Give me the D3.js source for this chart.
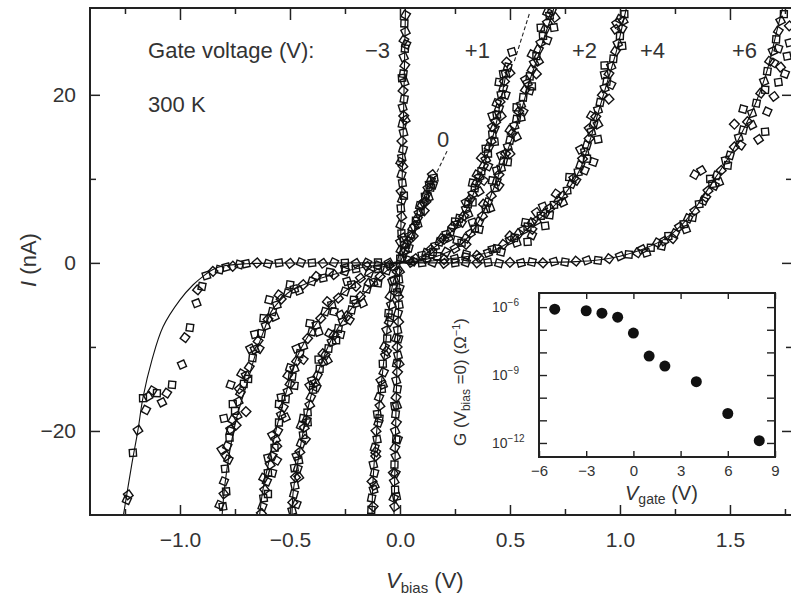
<!DOCTYPE html>
<html>
<head>
<meta charset="utf-8">
<script src="https://cdn.jsdelivr.net/npm/d3@7"></script>
<style>
  body { margin: 0; background: #fff; }
  text { font-family: "Liberation Sans", Arial, sans-serif; fill: #333; }
</style>
</head>
<body>
<svg width="791" height="600"></svg>
<script>
// I-V curves at 300 K, one per gate voltage : [Vbias (V), I (nA)]
const fit_m3 = [[-0.027,-30],[-0.02,-20],[-0.012,-10],[0,0],[0.01,10],[0.018,20],[0.025,30.4]];
const pts_m3 = [
  [0.001,0.5],[0.004,1.5],[0.002,2.5],[0.007,3.5],[0.003,4.5],[0.008,5.5],[0.004,6.5],[0.01,7.5],[0.005,8.5],[0.011,9.5],
  [0.007,10.5],[0.013,11.5],[0.008,12.5],[0.014,13.5],[0.009,14.5],[0.016,15.5],[0.011,16.5],[0.017,17.5],[0.012,18.5],[0.019,19.5],
  [0.014,20.5],[0.02,21.5],[0.015,22.5],[0.022,23.5],[0.017,24.5],[0.023,25.5],[0.018,26.5],[0.025,27.5],[0.02,28.5],[0.026,29.5],
  [0.012,3],[0.018,8],[0.003,12],[0.024,17],[0.009,22],[0.028,26],
  [-0.002,-1],[-0.005,-2],[-0.002,-3],[-0.007,-4],[-0.004,-5],[-0.009,-6],[-0.006,-7],[-0.011,-8],[-0.007,-9],[-0.013,-10],
  [-0.009,-11],[-0.015,-12],[-0.011,-13],[-0.017,-14],[-0.012,-15],[-0.018,-16],[-0.014,-17],[-0.02,-18],[-0.016,-19],[-0.022,-20],
  [-0.017,-21],[-0.023,-22],[-0.019,-23],[-0.025,-24],[-0.021,-25],[-0.026,-26],[-0.022,-27],[-0.028,-28],[-0.024,-29],
  [-0.012,-3.5],[-0.018,-9],[-0.004,-12],[-0.024,-17],[-0.01,-21],[-0.03,-25],[-0.016,-27.8]
];
const fit_0 = [[-0.127,-30],[-0.123,-26.2],[-0.1,-18.3],[-0.068,-10.4],[-0.032,-2.4],[0,0],[0.06,3.6],[0.105,6.7],[0.136,9],[0.16,10.3]];
const pts_0 = [
  [0.008,0.6],[0.016,1.2],[0.024,1.5],[0.03,2.2],[0.038,2.6],[0.045,3.2],[0.052,3.4],[0.058,4.1],[0.066,4.3],[0.072,5.0],
  [0.08,5.3],[0.086,5.9],[0.094,6.1],[0.1,6.9],[0.108,7.2],[0.114,7.9],[0.12,8.1],[0.127,8.9],[0.133,9.3],[0.14,9.8],
  [0.147,10.5],[0.155,10.1],[0.15,9.3],[0.118,7.3],
  [0.02,2.2],[0.04,1.8],[0.06,3.2],[0.08,4.6],[0.09,6.8],[0.11,6.2],[0.13,7.8],[0.14,9.0],
  [-0.013,-1],[-0.027,-2],[-0.03,-3],[-0.045,-4],[-0.04,-5],[-0.052,-6],[-0.049,-7],[-0.061,-8],[-0.058,-9],[-0.07,-10],
  [-0.066,-11],[-0.078,-12],[-0.074,-13],[-0.087,-14],[-0.083,-15],[-0.095,-16],[-0.091,-17],[-0.103,-18],[-0.098,-19],[-0.109,-20],
  [-0.104,-21],[-0.115,-22],[-0.11,-23],[-0.121,-24],[-0.116,-25],[-0.127,-26],[-0.12,-27],[-0.129,-28],[-0.122,-29],
  [-0.035,-2.2],[-0.045,-6.5],[-0.06,-10.5],[-0.078,-14.5],[-0.094,-18.5],[-0.11,-22.5],[-0.116,-26.5],[-0.13,-29.4]
];
const lead_0 = [[0.168,10.8],[0.214,13.3]];
const fit_p1 = [[-0.491,-30.5],[-0.486,-27.4],[-0.468,-24.3],[-0.441,-20.2],[-0.409,-16.3],[-0.364,-12.4],[-0.305,-8.8],[-0.214,-5.2],
  [-0.091,-1.7],[-0.045,-0.6],[0,0],[0.091,0.7],[0.182,2.4],[0.25,4.2],[0.305,6.5],[0.35,9.3],[0.386,11.9],[0.418,14.6],
  [0.441,17],[0.459,19.4],[0.477,21.8],[0.491,23.6]];
const pts_p1 = [
  [0.04,0.3],[0.07,0.5],[0.1,0.9],[0.12,1.2],[0.14,1.6],[0.16,2.0],[0.18,2.5],[0.2,2.8],[0.21,3.4],[0.23,3.7],
  [0.24,4.3],[0.26,4.6],[0.27,5.3],[0.29,5.6],[0.3,6.4],[0.31,7.0],[0.32,7.6],[0.33,8.2],[0.34,8.9],[0.35,9.6],
  [0.36,10.2],[0.37,10.9],[0.38,11.5],[0.39,12.3],[0.4,13.0],[0.405,13.8],[0.415,14.5],[0.42,15.3],[0.43,16.0],[0.435,16.8],
  [0.44,17.6],[0.45,18.4],[0.455,19.2],[0.46,20.0],[0.47,20.8],[0.475,21.6],[0.48,22.5],[0.49,23.3],[0.485,23.9],[0.509,25.1],
  [0.33,9.5],[0.37,12.5],[0.42,17.5],[0.45,21.5],[0.38,9.8],[0.31,5.8],
  [0.15,1.3],[0.19,2.9],[0.22,3.0],[0.25,4.9],[0.28,4.8],[0.3,7.2],[0.33,7.2],[0.35,10.5],[0.36,8.5],[0.39,13.6],
  [0.4,11.5],[0.42,16.2],[0.43,14.4],[0.44,19],[0.46,17.5],[0.47,22.5],[0.48,20],[0.5,22.6],
  [-0.03,-0.4],[-0.06,-0.9],[-0.09,-1.6],[-0.12,-2.3],[-0.15,-3.1],[-0.18,-4.0],[-0.2,-4.8],[-0.22,-5.6],[-0.24,-6.3],[-0.26,-7.0],
  [-0.28,-7.8],[-0.3,-8.6],[-0.31,-9.4],[-0.325,-10.2],[-0.34,-11.0],[-0.35,-11.8],[-0.365,-12.6],[-0.375,-13.4],[-0.385,-14.3],[-0.395,-15.1],
  [-0.405,-16],[-0.41,-16.9],[-0.42,-17.8],[-0.425,-18.7],[-0.435,-19.6],[-0.44,-20.5],[-0.45,-21.5],[-0.455,-22.5],[-0.46,-23.5],[-0.465,-24.5],
  [-0.475,-25.5],[-0.478,-26.5],[-0.482,-27.5],[-0.487,-28.5],[-0.49,-29.5],
  [-0.27,-8.5],[-0.35,-10.8],[-0.4,-14],[-0.44,-18.5],[-0.43,-21],[-0.47,-23],
  [-0.1,-2.4],[-0.14,-2.4],[-0.17,-4.8],[-0.21,-4.4],[-0.23,-6.8],[-0.27,-6.2],[-0.29,-9.2],[-0.32,-8.4],[-0.33,-11.6],[-0.37,-11.5],
  [-0.38,-14.8],[-0.41,-14.6],[-0.42,-19],[-0.45,-19.4],[-0.46,-25.5],[-0.48,-24.4],[-0.47,-28.7]
];
const lead_p1 = [[0.52,24.0],[0.59,29.8]];
const fit_p2 = [[-0.64,-30.5],[-0.623,-27],[-0.591,-23.1],[-0.555,-19],[-0.514,-15.1],[-0.468,-11.2],[-0.377,-7.1],[-0.259,-3.6],
  [-0.091,-0.6],[0,0],[0.1,0.3],[0.2,1.1],[0.273,2.1],[0.341,4.2],[0.395,6.9],[0.441,9.9],[0.482,12.9],[0.523,15.8],
  [0.559,18.8],[0.591,21.8],[0.623,24.2],[0.659,27.1],[0.691,29.5],[0.7,30.4]];
const pts_p2 = [
  [0.06,0.2],[0.12,0.5],[0.17,0.8],[0.21,1.3],[0.25,1.7],[0.28,2.4],[0.3,2.9],[0.32,3.5],[0.34,4.1],[0.36,4.9],
  [0.375,5.6],[0.39,6.4],[0.4,7.2],[0.415,8.0],[0.43,8.9],[0.44,9.7],[0.45,10.5],[0.46,11.3],[0.47,12.1],[0.48,13.0],
  [0.49,13.8],[0.5,14.6],[0.51,15.4],[0.52,16.3],[0.53,17.1],[0.54,18.0],[0.55,18.8],[0.56,19.7],[0.57,20.6],[0.58,21.4],
  [0.59,22.2],[0.6,23.0],[0.61,23.8],[0.62,24.6],[0.63,25.4],[0.64,26.2],[0.65,27.0],[0.66,27.8],[0.67,28.6],[0.68,29.4],
  [0.69,30.0],[0.705,29.2],[0.7,28.0],[0.67,26.5],[0.5,13.0],[0.55,17.3],[0.59,20.5],[0.62,22.5],[0.44,11],
  [0.26,2.7],[0.3,2.2],[0.33,4.8],[0.36,4.0],[0.38,7.0],[0.41,6.5],[0.42,9.8],[0.45,9.2],[0.46,12.8],[0.49,12.0],
  [0.5,15.8],[0.53,15.0],[0.53,18.5],[0.56,18.0],[0.57,21.8],[0.6,21.0],[0.6,24.8],[0.63,24.0],[0.64,28.0],[0.67,29.8],
  [-0.05,-0.3],[-0.1,-0.7],[-0.14,-1.2],[-0.18,-1.8],[-0.22,-2.6],[-0.25,-3.4],[-0.28,-4.2],[-0.31,-5.0],[-0.34,-5.8],[-0.36,-6.6],
  [-0.38,-7.4],[-0.4,-8.2],[-0.42,-9.0],[-0.44,-9.9],[-0.455,-10.8],[-0.47,-11.7],[-0.48,-12.6],[-0.49,-13.5],[-0.5,-14.4],[-0.51,-15.3],
  [-0.52,-16.2],[-0.53,-17.2],[-0.54,-18.1],[-0.55,-19.0],[-0.555,-20],[-0.565,-21],[-0.57,-22],[-0.58,-23],[-0.59,-24],[-0.6,-25],
  [-0.605,-26],[-0.615,-27],[-0.62,-28],[-0.625,-29],[-0.63,-29.8],
  [-0.54,-16],[-0.5,-12.5],[-0.56,-21.8],[-0.6,-23.2],[-0.58,-25],
  [-0.2,-2.8],[-0.24,-2.2],[-0.3,-5.8],[-0.33,-4.6],[-0.37,-8.2],[-0.41,-7.2],[-0.44,-11.5],[-0.47,-10.2],[-0.48,-14.6],[-0.51,-13.4],
  [-0.52,-18.4],[-0.55,-16.8],[-0.56,-23.5],[-0.58,-20.5],[-0.6,-27.5],[-0.62,-25.6]
];
const fit_p4 = [[-0.81,-30.5],[-0.795,-26.2],[-0.773,-22.3],[-0.741,-18.3],[-0.695,-14.3],[-0.65,-10.3],[-0.615,-7.8],[-0.585,-5.8],
  [-0.55,-4.6],[-0.5,-3.4],[-0.42,-2.4],[-0.33,-1.6],[-0.2,-0.7],[-0.1,-0.25],[0,0],[0.1,0.1],[0.227,0.5],[0.409,1.3],
  [0.5,2.5],[0.559,3.6],[0.668,6.0],[0.741,7.9],[0.818,11.1],[0.864,14.6],[0.909,18.6],[0.941,21.4],[0.986,25.4],[1.014,28.6],[1.03,30.4]];
const pts_p4 = [
  [0.2,0.4],[0.25,0.5],[0.3,0.7],[0.35,0.9],[0.4,1.2],[0.44,1.7],[0.47,2.2],[0.5,2.7],[0.52,3.0],[0.54,3.5],
  [0.56,3.9],[0.58,4.3],[0.6,4.8],[0.62,5.0],[0.64,5.6],[0.66,5.9],[0.68,6.5],[0.7,6.9],[0.72,7.4],[0.74,8.0],
  [0.76,8.6],[0.78,9.4],[0.79,10.1],[0.81,10.8],[0.82,11.6],[0.83,12.4],[0.84,13.2],[0.85,14.0],[0.86,14.8],[0.87,15.6],
  [0.88,16.5],[0.89,17.4],[0.9,18.2],[0.91,19.1],[0.92,20.0],[0.93,20.8],[0.94,21.6],[0.95,22.5],[0.96,23.4],[0.97,24.3],
  [0.98,25.2],[0.99,26.1],[1.0,27.0],[1.01,27.9],[1.015,28.8],[1.02,29.6],[1.0,29.0],[0.985,28.5],
  [0.58,2.5],[0.6,3.3],[0.62,6.0],[0.66,4.4],[0.84,11.0],[0.86,16.0],[0.9,14.7],[0.88,12.0],[0.95,19.5],[0.93,22.4],
  [0.3,1.0],[0.36,0.6],[0.42,1.6],[0.46,1.3],[0.5,3.2],[0.53,2.4],[0.57,4.8],[0.6,4.0],[0.65,6.7],[0.68,5.7],
  [0.71,8.2],[0.74,7.2],[0.77,10.2],[0.8,9.8],[0.82,13.5],[0.85,12.4],[0.87,17.5],[0.9,16.5],[0.93,23.5],[0.96,21.2],
  [0.98,27.8],[1.01,25.8],
  [-0.1,-0.3],[-0.15,-0.4],[-0.2,-0.7],[-0.25,-1.0],[-0.3,-1.4],[-0.35,-1.8],[-0.4,-2.2],[-0.44,-2.6],[-0.48,-3.1],[-0.51,-3.6],
  [-0.54,-4.3],[-0.56,-5.0],[-0.58,-5.8],[-0.6,-6.7],[-0.61,-7.5],[-0.63,-8.4],[-0.645,-9.3],[-0.66,-10.3],[-0.67,-11.3],[-0.685,-12.4],
  [-0.7,-13.4],[-0.71,-14.4],[-0.725,-15.5],[-0.735,-16.5],[-0.75,-17.6],[-0.76,-18.7],[-0.77,-19.8],[-0.775,-20.8],[-0.785,-21.8],[-0.79,-23],
  [-0.795,-24.5],[-0.8,-26],[-0.8,-27.5],[-0.805,-29],
  [-0.77,-14.5],[-0.73,-15],[-0.8,-18.5],[-0.77,-20],[-0.745,-19.3],[-0.66,-8.5],[-0.595,-4.4],[-0.7,-17.7],
  [-0.25,-0.6],[-0.32,-1.1],[-0.38,-1.6],[-0.46,-3.3],[-0.5,-2.6],[-0.55,-3.8],[-0.57,-6.4],[-0.62,-6.6],[-0.64,-10.2],[-0.68,-10.2],
  [-0.69,-13.8],[-0.72,-13.2],[-0.74,-18.2],[-0.76,-16.8],[-0.78,-23.4],[-0.81,-22.2],[-0.79,-27.2],[-0.82,-28.8]
];
const fit_p6 = [[-1.26,-30.5],[-1.218,-23.8],[-1.191,-19.9],[-1.168,-16],[-1.127,-11.5],[-1.077,-7.6],[-1.0,-4.4],[-0.94,-2.6],
  [-0.895,-1.6],[-0.85,-0.8],[-0.8,-0.35],[-0.7,-0.1],[-0.5,-0.02],[0,0],[0.5,0.02],[0.8,0.15],[0.9,0.35],[1.0,0.8],
  [1.1,1.6],[1.2,2.8],[1.28,4.5],[1.35,6.8],[1.42,9.6],[1.5,12.8],[1.56,15.8],[1.62,19.2],[1.67,23],[1.714,27.7],[1.74,30.4]];
const pts_p6 = [
  [0.05,0.05],[0.1,0],[0.15,0.05],[0.2,-0.05],[0.25,0],[0.3,0.05],[0.35,0],[0.4,0.05],[0.45,-0.05],[0.5,0.05],
  [0.55,0],[0.6,0.1],[0.65,0],[0.7,0.15],[0.75,0.1],[0.8,0.2],[0.85,0.3],[0.9,0.3],[0.95,0.5],[1.0,0.8],
  [1.04,1.0],[1.08,1.2],[1.1,1.6],[1.14,1.8],[1.17,2.4],[1.2,2.6],[1.22,3.2],[1.25,3.5],[1.27,4.3],[1.29,4.6],
  [1.31,5.3],[1.34,6.2],[1.36,7.0],[1.38,7.4],[1.4,8.6],[1.42,9.4],[1.44,10.4],[1.46,11.0],[1.48,12.2],[1.5,12.8],
  [1.52,13.8],[1.54,14.9],[1.56,15.8],[1.58,16.8],[1.6,17.8],[1.62,19.0],[1.64,20.2],[1.655,21.6],[1.67,22.8],[1.68,24.0],
  [1.695,25.2],[1.71,26.6],[1.72,27.6],[1.73,28.8],[1.745,29.6],
  [1.34,10.5],[1.37,11.0],[1.41,10.0],[1.43,9.2],[1.63,14.7],[1.66,15.6],[1.67,18.0],[1.7,19.8],[1.72,21.5],[1.75,22.5],
  [1.73,23.3],[1.76,24.6],[1.72,25.5],[1.77,28.2],[1.77,26.2],[1.56,18.3],[1.52,16.5],
  [1.12,1.2],[1.19,2.0],[1.24,2.9],[1.3,4.0],[1.33,5.4],[1.39,7.8],[1.45,9.6],[1.49,11.6],[1.55,14.0],[1.6,16.4],[1.66,20.6],[1.7,23.8],
  [-0.05,0],[-0.1,0.05],[-0.15,0],[-0.2,-0.05],[-0.25,0],[-0.3,0.05],[-0.35,-0.05],[-0.4,0],[-0.45,0.05],[-0.5,-0.05],
  [-0.55,0],[-0.6,-0.1],[-0.65,0],[-0.7,-0.1],[-0.73,-0.2],[-0.76,-0.4],[-0.79,-0.5],[-0.82,-0.8],[-0.85,-1.0],[-0.88,-1.5],
  [-0.9,-2.8],[-0.92,-3.2],[-0.925,-4.8],[-0.955,-7.7],[-0.977,-8.9],[-0.991,-12.1],[-1.036,-14.5],[-1.06,-15.5],[-1.082,-16.6],[-1.105,-15.5],
  [-1.125,-15.2],[-1.145,-15.9],[-1.168,-16.1],[-1.155,-17.5],[-1.191,-19.9],[-1.214,-22.6],[-1.241,-28.2],[-1.235,-27.6]
];

// inset: zero-bias conductance vs gate voltage
const gateV = [-5, -3, -2, -1, 0, 1, 2, 4, 6, 8];
const condG = [8.1e-7, 6.9e-7, 5.4e-7, 3.6e-7, 7.1e-8, 6.9e-9, 2.5e-9, 5.1e-10, 2.0e-11, 1.26e-12];

// ticks and labels
const xMajor = [-1.0, -0.5, 0, 0.5, 1.0, 1.5];
const xMinor = [-1.25, -0.75, -0.25, 0.25, 0.75, 1.25, 1.75];
const yMajor = [-20, 0, 20];
const yMinor = [-10, 10];
const gTicks = [-6, -3, 0, 3, 6, 9];
const decTicks = [1e-6, 1e-7, 1e-8, 1e-9, 1e-10, 1e-11, 1e-12];
const decLabels = [[1e-6, "−6"], [1e-9, "−9"], [1e-12, "−12"]];
const curveLabels = [
  {t: "−3", v: -0.045, i: 24.4, a: "end"},
  {t: "+1", v: 0.295, i: 24.4, a: "start"},
  {t: "+2", v: 0.782, i: 24.4, a: "start"},
  {t: "+4", v: 1.091, i: 24.4, a: "start"},
  {t: "+6", v: 1.509, i: 24.4, a: "start"},
  {t: "0", v: 0.168, i: 13.8, a: "start"}
];

let svg = d3.select("svg");
const L = 90, R = 792, T = 8, B = 515;
let x = d3.scaleLinear().domain([-1.409, 1.782]).range([L, R]);
let y = d3.scaleLinear().domain([-30, 30.33]).range([B, T]);

svg.append("clipPath").attr("id", "clip")
  .append("rect").attr("x", L).attr("y", T).attr("width", R - L).attr("height", B - T);

let plot = svg.append("g").attr("clip-path", "url(#clip)");
let line = d3.line().x(d => x(d[0])).y(d => y(d[1])).curve(d3.curveCatmullRom.alpha(0.5));

const fits = [fit_m3, fit_0, fit_p1, fit_p2, fit_p4, fit_p6];
const allPts = [pts_m3, pts_0, pts_p1, pts_p2, pts_p4, pts_p6];

fits.forEach(f => {
  plot.append("path").attr("d", line(f))
    .attr("fill", "none").attr("stroke", "#111").attr("stroke-width", 1.1);
});

[lead_0, lead_p1].forEach(f => {
  plot.append("path").attr("d", d3.line().x(d => x(d[0])).y(d => y(d[1]))(f))
    .attr("fill", "none").attr("stroke", "#222").attr("stroke-width", 1.1)
    .attr("stroke-dasharray", "4,2.5");
});

let sym = d3.symbol().type(d3.symbolSquare).size(48);
allPts.forEach((pts, k) => {
  plot.selectAll(".p" + k).data(pts).enter()
    .append("path")
    .attr("class", "p" + k)
    .attr("d", sym)
    .attr("transform", (d, i) => `translate(${x(d[0])},${y(d[1])}) rotate(${(i * 29 + k * 11) % 90})`)
    .attr("fill", "none")
    .attr("stroke", "#111")
    .attr("stroke-width", 1.4);
});

// axes (ticks pointing inward)
function styleAxis(g) {
  g.select(".domain").remove();
  g.selectAll("line").attr("stroke", "#222").attr("stroke-width", 1.5);
  g.selectAll("text").attr("font-size", 21).attr("fill", "#333")
    .attr("font-family", '"Liberation Sans", Arial, sans-serif');
}
const fmtX = d => d3.format(".1f")(d).replace("-", "−");
const fmtY = d => d3.format("d")(d).replace("-", "−");

svg.append("g").attr("transform", `translate(0,${B})`)
  .call(d3.axisBottom(x).tickValues(xMajor).tickFormat(fmtX).tickSize(-10).tickPadding(17)).call(styleAxis);
svg.append("g").attr("transform", `translate(0,${B})`)
  .call(d3.axisBottom(x).tickValues(xMinor).tickFormat("").tickSize(-6)).call(styleAxis);
svg.append("g").attr("transform", `translate(0,${T})`)
  .call(d3.axisTop(x).tickValues(xMajor).tickFormat("").tickSize(-12)).call(styleAxis);
svg.append("g").attr("transform", `translate(0,${T})`)
  .call(d3.axisTop(x).tickValues(xMinor).tickFormat("").tickSize(-6)).call(styleAxis);
svg.append("g").attr("transform", `translate(${L},0)`)
  .call(d3.axisLeft(y).tickValues(yMajor).tickFormat(fmtY).tickSize(-10).tickPadding(14)).call(styleAxis);
svg.append("g").attr("transform", `translate(${L},0)`)
  .call(d3.axisLeft(y).tickValues(yMinor).tickFormat("").tickSize(-6)).call(styleAxis);
svg.append("g").attr("transform", `translate(${R},0)`)
  .call(d3.axisRight(y).tickValues(yMajor).tickFormat("").tickSize(-10)).call(styleAxis);
svg.append("g").attr("transform", `translate(${R},0)`)
  .call(d3.axisRight(y).tickValues(yMinor).tickFormat("").tickSize(-6)).call(styleAxis);

svg.append("rect").attr("x", L).attr("y", T).attr("width", R - L).attr("height", B - T)
  .attr("fill", "none").attr("stroke", "#222").attr("stroke-width", 2);

// axis titles
let xt = svg.append("text").attr("x", 386).attr("y", 588).attr("font-size", 22);
xt.append("tspan").attr("font-style", "italic").text("V");
xt.append("tspan").attr("font-size", 15).attr("dy", 5).text("bias");
xt.append("tspan").attr("dy", -5).text(" (V)");

let yt = svg.append("text").attr("transform", "translate(36,260) rotate(-90)")
  .attr("text-anchor", "middle").attr("font-size", 22);
yt.append("tspan").attr("font-style", "italic").text("I");
yt.append("tspan").text(" (nA)");

// annotations
svg.append("text").attr("x", x(-1.145)).attr("y", y(24.4)).attr("font-size", 22).text("Gate voltage (V):");
svg.append("text").attr("x", x(-1.145)).attr("y", y(18.0)).attr("font-size", 22).text("300 K");
curveLabels.forEach(c => {
  svg.append("text").attr("x", x(c.v)).attr("y", y(c.i)).attr("font-size", 22)
    .attr("text-anchor", c.a).text(c.t);
});

// ---- inset ----
const iL = 539, iR = 775, iT = 293, iB = 457;
let xi = d3.scaleLinear().domain([-6, 9]).range([iL, iR]);
let yi = d3.scaleLog().domain([2.4e-13, 4.2e-6]).range([iB, iT]);

svg.append("rect").attr("x", iL).attr("y", iT).attr("width", iR - iL).attr("height", iB - iT)
  .attr("fill", "#fff");

function styleInset(g) {
  g.select(".domain").remove();
  g.selectAll("line").attr("stroke", "#222").attr("stroke-width", 1.4);
  g.selectAll("text").attr("font-size", 15).attr("fill", "#333")
    .attr("font-family", '"Liberation Sans", Arial, sans-serif');
}
svg.append("g").attr("transform", `translate(0,${iB})`)
  .call(d3.axisBottom(xi).tickValues(gTicks).tickFormat(d => String(d).replace("-", "−")).tickSize(-6).tickPadding(8))
  .call(styleInset);
svg.append("g").attr("transform", `translate(0,${iT})`)
  .call(d3.axisTop(xi).tickValues(gTicks).tickFormat("").tickSize(-6)).call(styleInset);
svg.append("g").attr("transform", `translate(${iL},0)`)
  .call(d3.axisLeft(yi).tickValues(decTicks).tickFormat("").tickSize(-8)).call(styleInset);
svg.append("g").attr("transform", `translate(${iR},0)`)
  .call(d3.axisRight(yi).tickValues(decTicks).tickFormat("").tickSize(-8)).call(styleInset);

decLabels.forEach(([v, e]) => {
  let t = svg.append("text").attr("x", 492).attr("y", yi(v) + 5).attr("font-size", 14);
  t.append("tspan").text("10");
  t.append("tspan").attr("font-size", 10).attr("dy", -6).text(e);
});

svg.append("rect").attr("x", iL).attr("y", iT).attr("width", iR - iL).attr("height", iB - iT)
  .attr("fill", "none").attr("stroke", "#222").attr("stroke-width", 2);

svg.selectAll(".gpt").data(gateV).enter()
  .append("circle").attr("class", "gpt")
  .attr("cx", d => xi(d))
  .attr("cy", (d, i) => yi(condG[i]))
  .attr("r", 5.5)
  .attr("fill", "#111");

let ixt = svg.append("text").attr("x", 625).attr("y", 500).attr("font-size", 20);
ixt.append("tspan").attr("font-style", "italic").text("V");
ixt.append("tspan").attr("font-size", 14).attr("dy", 4).text("gate");
ixt.append("tspan").attr("dy", -4).text(" (V)");

let iyt = svg.append("text").attr("transform", "translate(466,382) rotate(-90)")
  .attr("text-anchor", "middle").attr("font-size", 17);
iyt.append("tspan").text("G (V");
iyt.append("tspan").attr("font-size", 12).attr("dy", 4).text("bias");
iyt.append("tspan").attr("dy", -4).text(" =0) (Ω");
iyt.append("tspan").attr("font-size", 11).attr("dy", -6).text("−1");
iyt.append("tspan").attr("dy", 6).text(")");
</script>
</body>
</html>
